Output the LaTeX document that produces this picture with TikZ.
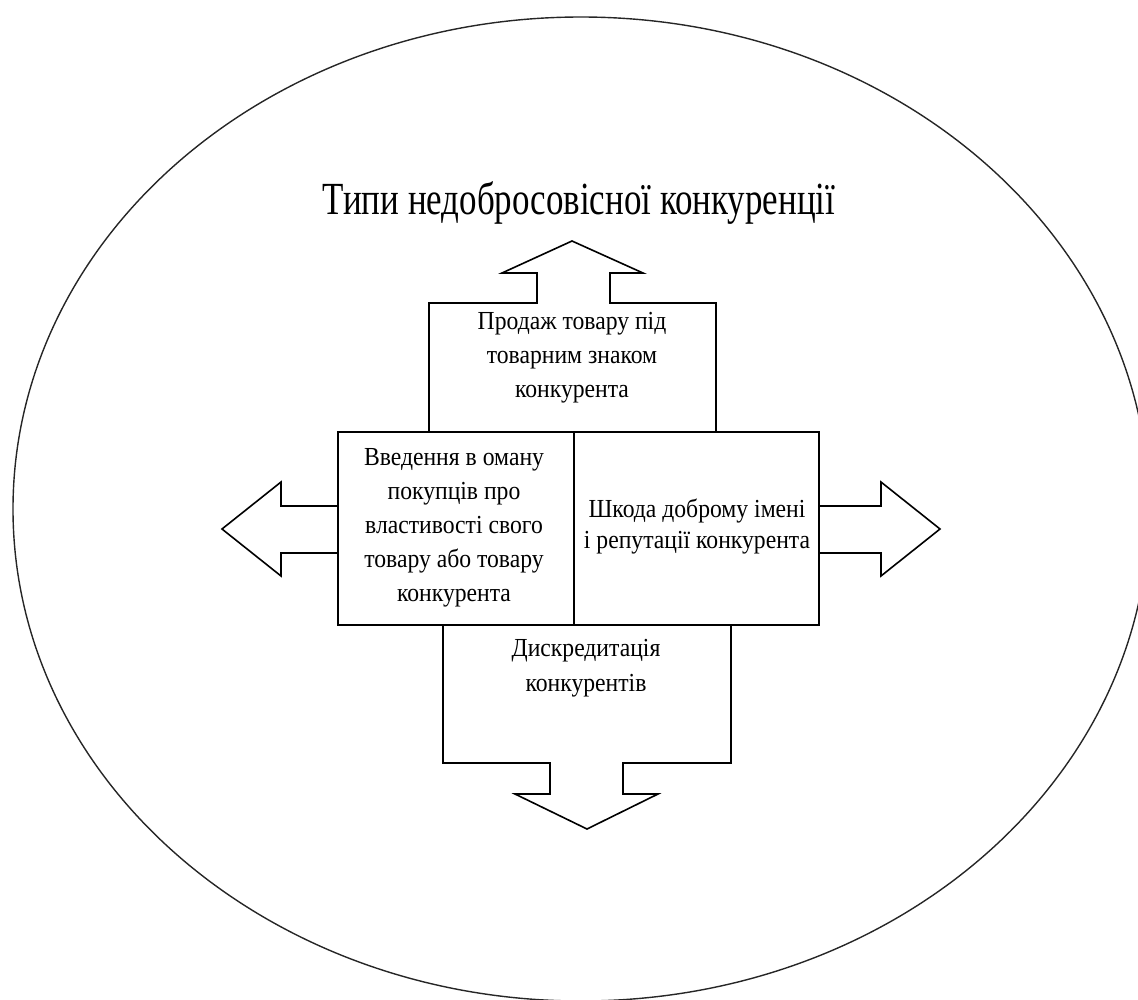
\documentclass[tikz,border=0pt]{standalone}
\usepackage{fontspec}
\setmainfont{Liberation Serif}
\newfontfamily\boxfont[FakeStretch=0.91]{Liberation Serif}
\newfontfamily\titlefont[FakeStretch=0.76]{Liberation Serif}
\begin{document}
\begin{tikzpicture}[x=1pt,y=-1pt,
  outline/.style={draw=black,line width=1.6pt,line join=miter},
  oval/.style={draw=black!85,line width=1.4pt},
  lbl/.style={align=center,inner sep=0pt,font=\boxfont\fontsize{26}{34}\selectfont},
  ttl/.style={inner sep=0pt,anchor=base,font=\titlefont\fontsize{46}{50}\selectfont}]
\useasboundingbox (0,0) rectangle (1138,999);
\clip (0,0) rectangle (1138,999);
% enclosing ellipse
\draw[oval] (581,509) ellipse [x radius=568, y radius=492];
% title
\node[ttl] (title) at (579,214) {Типи недобросовісної конкуренції};
% top block arrow
\draw[outline] (429,432) -- (429,303) -- (537,303) -- (537,273) -- (502,273) -- (572,241)
  -- (643,273) -- (610,273) -- (610,303) -- (716,303) -- (716,432);
% central rectangle with divider
\draw[outline] (338,432) rectangle (819,625);
\draw[outline] (574,432) -- (574,625);
% left block arrow
\draw[outline] (338,506) -- (281,506) -- (281,482) -- (222,529) -- (281,576) -- (281,553) -- (338,553);
% right block arrow
\draw[outline] (819,506) -- (881,506) -- (881,482) -- (940,529) -- (881,576) -- (881,553) -- (819,553);
% bottom block arrow
\draw[outline] (443,625) -- (443,763) -- (550,763) -- (550,794) -- (515,794) -- (587,829)
  -- (658,794) -- (623,794) -- (623,763) -- (731,763) -- (731,625);
% labels
\node[lbl] (top) at (572,358) {Продаж товару під\\товарним знаком\\конкурента};
\node[lbl] (left) at (454,528) {Введення в оману\\покупців про\\властивості свого\\товару або товару\\конкурента};
\node[lbl,font=\boxfont\fontsize{26}{31}\selectfont] (right) at (697,526) {Шкода доброму імені\\і репутації конкурента};
\node[lbl,font=\boxfont\fontsize{26}{35}\selectfont] (bottom) at (586,668) {Дискредитація\\конкурентів};
\end{tikzpicture}
\end{document}
